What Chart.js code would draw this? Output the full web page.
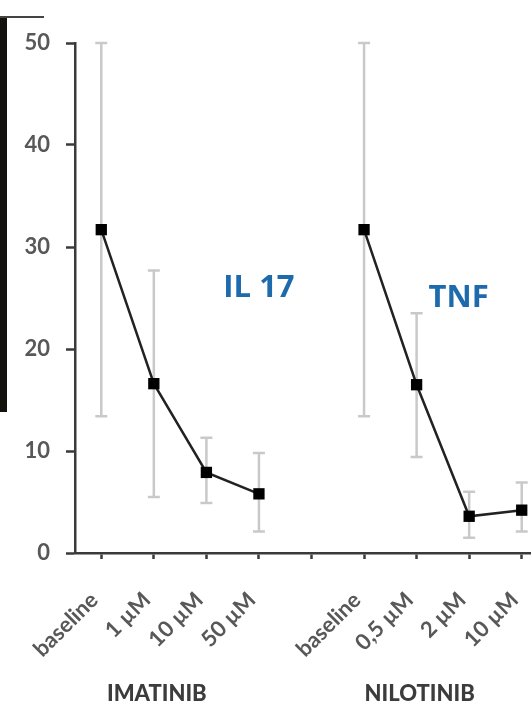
<!DOCTYPE html>
<html>
<head>
<meta charset="utf-8">
<script src="https://cdn.jsdelivr.net/npm/chart.js@4"></script>
<style>
  html, body { margin: 0; padding: 0; background: #fff; overflow: hidden; }
  #wrap { position: relative; width: 560px; height: 709px; }
  #bar { position: absolute; left: 0; top: 17px; width: 7px; height: 395px; background: #14120c; }
  #rule { position: absolute; left: 0; top: 16px; width: 44px; height: 2px; background: #444; }
</style>
</head>
<body>
<div id="wrap">
  <canvas id="c" width="560" height="709"></canvas>
  <div id="bar"></div>
  <div id="rule"></div>
</div>
<script>
// categories (slot 4 is the gap between the two drugs)
const categories = ["baseline", "1 µM", "10 µM", "50 µM", "", "baseline", "0,5 µM", "2 µM", "10 µM"];
const means = [31.7, 16.6, 7.9, 5.8, null, 31.7, 16.5, 3.6, 4.2];
const errLow = [13.4, 5.5, 4.9, 2.1, null, 13.4, 9.4, 1.5, 2.1];
const errHigh = [50, 27.7, 11.3, 9.8, null, 50, 23.5, 6.0, 6.9];
const yTicks = [0, 10, 20, 30, 40, 50];
const groups = [["IMATINIB", 1], ["NILOTINIB", 6]];
const notes = [["IL 17", 3, 26], ["TNF", 6.8, 25]];

const GREY = "#585858";
const AXIS = "#3a3a3a";

// light grey error bars behind the line
const errorBars = {
  id: "errorBars",
  beforeDatasetsDraw(chart) {
    const { ctx, scales: { x, y } } = chart;
    ctx.save();
    ctx.strokeStyle = "#c9c9c9";
    ctx.lineWidth = 2.5;
    errLow.forEach((lo, i) => {
      if (lo == null) return;
      const px = x.getPixelForValue(i);
      const y0 = y.getPixelForValue(lo), y1 = y.getPixelForValue(errHigh[i]);
      ctx.beginPath();
      ctx.moveTo(px, y0); ctx.lineTo(px, y1);
      ctx.moveTo(px - 6, y0); ctx.lineTo(px + 6, y0);
      ctx.moveTo(px - 6, y1); ctx.lineTo(px + 6, y1);
      ctx.stroke();
    });
    ctx.restore();
  }
};

// drug names under the axis + cytokine labels inside the plot
const labelsPlugin = {
  id: "labelsPlugin",
  afterDraw(chart) {
    const { ctx, scales: { x, y } } = chart;
    const step = x.getPixelForValue(1) - x.getPixelForValue(0);
    ctx.save();
    ctx.textAlign = "center";
    ctx.textBaseline = "middle";
    ctx.fillStyle = "#3c3c3c";
    ctx.font = "900 22px Lato, sans-serif";
    groups.forEach(([t, i]) => ctx.fillText(t, x.getPixelForValue(i) + 3, 694));
    ctx.fillStyle = "#1d6aad";
    ctx.font = "bold 31px 'Open Sans', sans-serif";
    notes.forEach(([t, i, v]) => {
      const px = x.getPixelForValue(Math.floor(i)) + (i % 1) * step;
      ctx.fillText(t, px, y.getPixelForValue(v));
    });
    ctx.restore();
  }
};

new Chart(document.getElementById("c"), {
  type: "line",
  data: {
    labels: categories,
    datasets: [{
      data: means,
      borderColor: "#222",
      borderWidth: 2.5,
      backgroundColor: "#000",
      pointStyle: "rect",
      pointRadius: 8,
      pointBorderWidth: 0,
      spanGaps: false,
      tension: 0
    }]
  },
  options: {
    responsive: false,
    animation: false,
    layout: { padding: { top: 43, right: 12, left: 0, bottom: 0 } },
    plugins: { legend: { display: false }, tooltip: { enabled: false } },
    scales: {
      x: {
        offset: true,
        afterFit: (s) => { s.height = 156; s.paddingLeft = 0; s.paddingRight = 0; },
        grid: { drawOnChartArea: false, tickLength: 6, tickColor: AXIS, tickWidth: 2.5, offset: false },
        border: { color: AXIS, width: 2.5 },
        ticks: {
          color: GREY, autoSkip: false, maxRotation: 45, minRotation: 45, padding: 28, labelOffset: -7,
          font: { family: "Lato, sans-serif", size: 22, weight: "bold" }
        }
      },
      y: {
        min: 0, max: 50,
        afterFit: (s) => { s.width = 75; },
        afterBuildTicks: (s) => { s.ticks = yTicks.map(v => ({ value: v })); },
        grid: { drawOnChartArea: false, tickLength: 9, tickColor: AXIS, tickWidth: 2.5 },
        border: { color: AXIS, width: 2.5 },
        ticks: {
          color: GREY, padding: 16,
          font: { family: "Lato, sans-serif", size: 22, weight: "bold" }
        }
      }
    }
  },
  plugins: [errorBars, labelsPlugin]
});
</script>
</body>
</html>
